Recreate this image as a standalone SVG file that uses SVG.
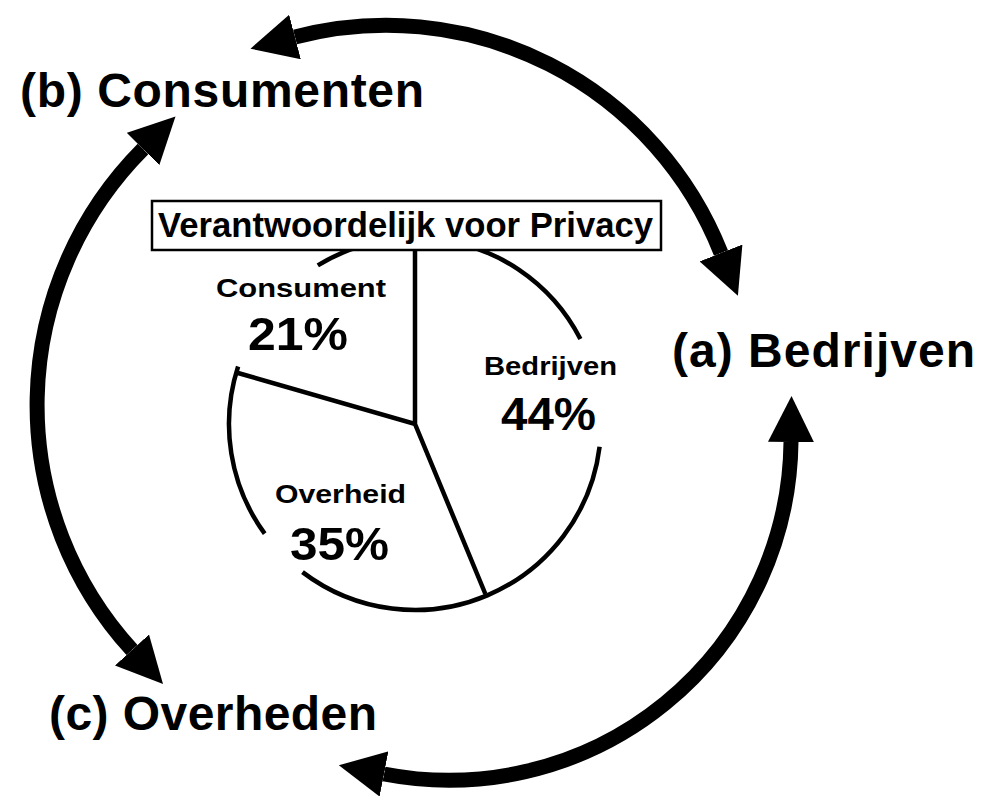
<svg xmlns="http://www.w3.org/2000/svg" width="983" height="796" viewBox="0 0 983 796">
<defs>
<style>
.big{font-family:"Liberation Sans",Arial,sans-serif;font-weight:bold;font-size:48px;fill:#000}
.lbl{font-family:"Liberation Sans",Arial,sans-serif;font-weight:bold;font-size:25px;fill:#000}
.pct{font-family:"Liberation Sans",Arial,sans-serif;font-weight:bold;font-size:47px;fill:#000}
.ttl{font-family:"Liberation Sans",Arial,sans-serif;font-weight:bold;font-size:35px;fill:#000}
.conn{fill:none;stroke:#000;stroke-width:15;marker-start:url(#ah);marker-end:url(#ah)}
.pie{fill:none;stroke:#000;stroke-width:4.5}
</style>
<marker id="ah" markerUnits="userSpaceOnUse" markerWidth="46" markerHeight="46" viewBox="0 0 46 46" refX="0" refY="23" orient="auto-start-reverse">
<path d="M0,0 L46,23 L0,46 z" fill="#000"/>
</marker>
</defs>
<rect width="983" height="796" fill="#fff"/>

<g id="connectors">
<path class="conn" d="M295,37 A360,360 0 0,1 721,253"/>
<path class="conn" d="M143,149 A363,363 0 0,0 132,650"/>
<path class="conn" d="M791,442 A342,342 0 0,1 384,774"/>
</g>

<g id="node-consumenten"><text class="big" x="20" y="107" textLength="404">(b) Consumenten</text></g>
<g id="node-bedrijven"><text class="big" x="672" y="367" textLength="303">(a) Bedrijven</text></g>
<g id="node-overheden"><text class="big" x="49" y="730" textLength="328">(c) Overheden</text></g>

<g id="pie-chart">
<path class="pie" d="M317.8,265.4 A186,186 0 0,1 382.7,240.8"/>
<path class="pie" d="M431.2,238.7 A186,186 0 0,1 580.4,339"/>
<path class="pie" d="M599.6,446.7 A186,186 0 0,1 302.5,572.1"/>
<path class="pie" d="M264.7,533.6 A186,186 0 0,1 238.1,366.5"/>
<path class="pie" d="M415,250 L415,424 L238,373 M415,424 L485.4,594"/>
<g id="pie-title">
<rect x="152" y="201" width="509" height="49" fill="#fff" stroke="#000" stroke-width="2.5"/>
<text class="ttl" x="158" y="237" textLength="495" lengthAdjust="spacingAndGlyphs">Verantwoordelijk voor Privacy</text>
</g>
<g id="slice-consument">
<text class="lbl" x="216" y="297" textLength="170" lengthAdjust="spacingAndGlyphs">Consument</text>
<text class="pct" x="248" y="350" textLength="100" lengthAdjust="spacingAndGlyphs">21%</text>
</g>
<g id="slice-bedrijven">
<text class="lbl" x="484" y="375" textLength="133" lengthAdjust="spacingAndGlyphs">Bedrijven</text>
<text class="pct" x="501" y="430" textLength="95" lengthAdjust="spacingAndGlyphs">44%</text>
</g>
<g id="slice-overheid">
<text class="lbl" x="275" y="503" textLength="131" lengthAdjust="spacingAndGlyphs">Overheid</text>
<text class="pct" x="290" y="560" textLength="99" lengthAdjust="spacingAndGlyphs">35%</text>
</g>
</g>
</svg>
